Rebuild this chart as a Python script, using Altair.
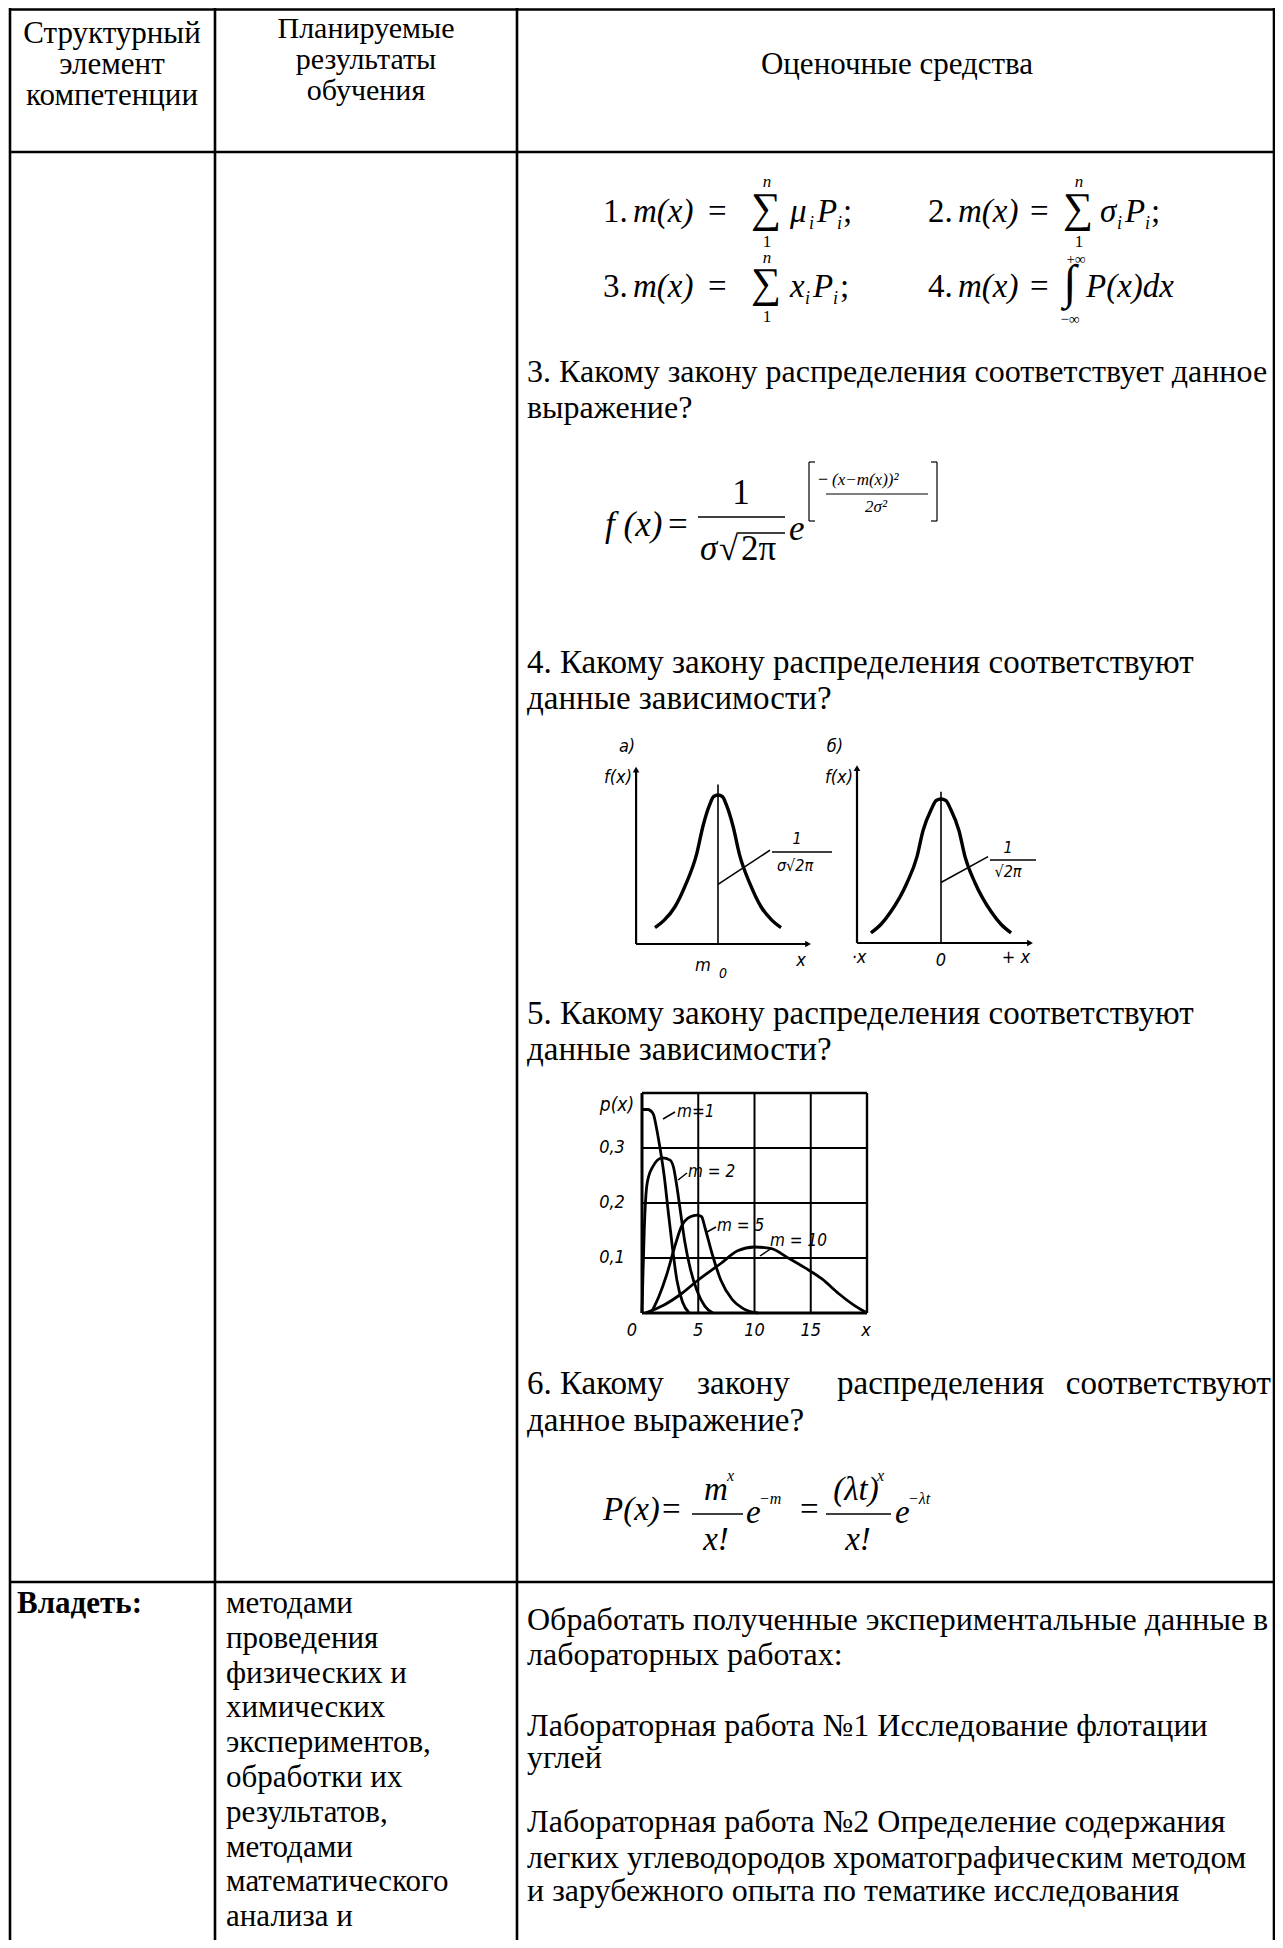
import altair as alt
import pandas as pd

# ---------------- canvas (page pixel coordinates) ----------------
W, H = 1267, 1932
OX, OY = 8, 8
SERIF = "Liberation Serif, Times New Roman, serif"
NARROW = "Liberation Sans Narrow, DejaVu Sans Condensed, Liberation Sans, sans-serif"

# ---------------- texts ----------------
HEAD_COL1 = ["Структурный", "элемент", "компетенции"]
HEAD_COL2 = ["Планируемые", "результаты", "обучения"]
HEAD_COL3 = ["Оценочные средства"]
Q3_LINES = ["3. Какому закону распределения соответствует данное", "выражение?"]
Q4_LINES = ["4. Какому закону распределения соответствуют", "данные зависимости?"]
Q5_LINES = ["5. Какому закону распределения соответствуют", "данные зависимости?"]
Q6_WORDS = ["6.", "Какому", "закону", "распределения", "соответствуют"]
Q6_LINE2 = ["данное выражение?"]
OWN_LABEL = ["Владеть:"]
OWN_COL2 = ["методами", "проведения", "физических и", "химических", "экспериментов,",
            "обработки их", "результатов,", "методами", "математического", "анализа и"]
OWN_COL3 = ["Обработать полученные экспериментальные данные в", "лабораторных работах:",
            "Лабораторная работа №1 Исследование флотации", "углей",
            "Лабораторная работа №2 Определение содержания",
            "легких углеводородов хроматографическим методом",
            "и зарубежного опыта по тематике исследования"]

# ---------------- figure data ----------------
# normal-law sketches, x in sigma units, y relative to peak
BELL_A_X = [-2.93, -2.5, -2.0, -1.5, -1.0, -0.7, -0.4, -0.2, 0.0, 0.2, 0.4, 0.7, 1.0, 1.5, 2.0, 2.5, 2.93]
BELL_A_Y = [0.11, 0.16, 0.25, 0.40, 0.60, 0.79, 0.93, 0.99, 1.0, 0.99, 0.93, 0.79, 0.60, 0.40, 0.25, 0.16, 0.11]
BELL_B_X = [-2.92, -2.5, -2.1, -1.42, -1.0, -0.75, -0.4, -0.2, 0.0, 0.2, 0.4, 0.75, 1.0, 1.42, 2.1, 2.5, 2.92]
BELL_B_Y = [0.07, 0.13, 0.215, 0.417, 0.60, 0.78, 0.93, 0.99, 1.0, 0.99, 0.93, 0.78, 0.60, 0.417, 0.215, 0.13, 0.07]

# Poisson curves p(x) for m = 1, 2, 5, 10
POIS_NAMES = ["m=1", "m=2", "m=5", "m=10"]
POIS_X = [
    [0, 0.5, 1.0, 1.3, 1.6, 2.0, 2.3, 2.7, 3.1, 3.6, 4.2],
    [0, 0.1, 0.2, 0.45, 0.9, 1.8, 2.5, 2.8, 3.1, 3.4, 3.8, 4.3, 4.9, 5.6, 6.3],
    [0.8, 1.5, 2.2, 2.9, 3.5, 4.3, 4.9, 5.3, 5.6, 6.2, 7.0, 8.0, 9.0, 10.3],
    [0.3, 2, 3.5, 5, 7, 8.5, 10, 11.5, 13, 14.5, 16, 17.5, 19, 20],
]
POIS_P = [
    [0.37, 0.37, 0.362, 0.335, 0.30, 0.245, 0.19, 0.12, 0.06, 0.02, 0.0],
    [0.0, 0.08, 0.15, 0.235, 0.264, 0.282, 0.278, 0.265, 0.23, 0.187, 0.13, 0.08, 0.04, 0.012, 0.0],
    [0.0, 0.03, 0.07, 0.12, 0.157, 0.175, 0.178, 0.175, 0.155, 0.11, 0.06, 0.025, 0.008, 0.0],
    [0.0, 0.015, 0.035, 0.06, 0.09, 0.113, 0.12, 0.117, 0.10, 0.082, 0.062, 0.035, 0.012, 0.0],
]
POIS_XTICKS = [5, 10, 15]
POIS_XLABELS = ["5", "10", "15"]
POIS_YTICKS = [0.1, 0.2, 0.3]
POIS_YLABELS = ["0,1", "0,2", "0,3"]

# ---------------- helpers ----------------
PX = alt.Scale(domain=[OX, OX + W], range=[0, W])
PY = alt.Scale(domain=[OY, OY + H], range=[0, H])


def texts(rows, font=SERIF, style="normal", weight="normal", align="left"):
    df = pd.DataFrame(rows, columns=["px", "py", "t", "fs"])
    return alt.Chart(df).mark_text(font=font, fontStyle=style, fontWeight=weight, align=align,
                                   baseline="middle", color="black").encode(
        x=alt.X("px:Q", scale=PX, axis=None),
        y=alt.Y("py:Q", scale=PY, axis=None),
        text=alt.Text("t:N"),
        size=alt.Size("fs:Q", scale=None, legend=None),
    )


def segs(rows, width, sx=PX, sy=PY):
    df = pd.DataFrame(rows, columns=["x1", "y1", "x2", "y2"])
    return alt.Chart(df).mark_rule(color="black", strokeWidth=width).encode(
        x=alt.X("x1:Q", scale=sx, axis=None), y=alt.Y("y1:Q", scale=sy, axis=None),
        x2="x2:Q", y2="y2:Q")


def sub_scale(dom, rng, off):
    return alt.Scale(domain=dom, range=[rng[0] - off, rng[1] - off], nice=False, zero=False)


layers = []

# ---------------- table grid ----------------
B = OY + H
layers.append(segs([(10, 8, 10, B), (215, 8, 215, B), (517, 8, 517, B), (1274, 8, 1274, B),
                    (9, 9.5, 1275, 9.5), (9, 152, 1275, 152), (9, 1582, 1275, 1582)], 2.6))

# ---------------- header ----------------
rows = [(112, y, t, 31) for y, t in zip([34, 65, 96], HEAD_COL1)]
rows += [(366, y, t, 30) for y, t in zip([29, 60, 91], HEAD_COL2)]
rows += [(897, 65, HEAD_COL3[0], 31)]
layers.append(texts(rows, align="center"))

# ---------------- body text ----------------
rows = [(527, y, t, 32) for y, t in zip([372, 408], Q3_LINES)]
rows += [(527, y, t, 33) for y, t in zip([663, 699], Q4_LINES)]
rows += [(527, y, t, 33) for y, t in zip([1014, 1050], Q5_LINES)]
rows += [(x, 1384, t, 33) for x, t in zip([527, 560, 697, 837], Q6_WORDS[:4])]
rows += [(527, 1421, Q6_LINE2[0], 33)]
rows += [(226, 1604 + 34.8 * i, t, 31) for i, t in enumerate(OWN_COL2)]
rows += [(527, y, t, 32) for y, t in zip([1620, 1655, 1726, 1758, 1822, 1858, 1891], OWN_COL3)]
layers.append(texts(rows))
layers.append(texts([(1271, 1384, Q6_WORDS[4], 33)], align="right"))
layers.append(texts([(17, 1604, OWN_LABEL[0], 31)], weight="bold"))

# ---------------- formulas (m(x) lines) ----------------
FS = 33
up = [("1.", 603, 212), ("=", 708, 212), (";", 843, 212), ("2.", 928, 212), ("=", 1030, 212), (";", 1151, 212),
      ("3.", 603, 287), ("=", 708, 287), (";", 840, 287), ("4.", 928, 287), ("=", 1030, 287)]
layers.append(texts([(x, y, t, FS) for t, x, y in up]))
it = [("m(x)", 633, 212), ("μ", 790, 212), ("P", 817, 212), ("m(x)", 958, 212), ("σ", 1100, 212), ("P", 1125, 212),
      ("m(x)", 633, 287), ("x", 790, 287), ("P", 813, 287), ("m(x)", 958, 287), ("P(x)dx", 1086, 287)]
layers.append(texts([(x, y, t, FS) for t, x, y in it], style="italic"))
subs = [("i", 809, 224), ("i", 837, 224), ("i", 1117, 224), ("i", 1145, 224), ("i", 805, 299), ("i", 833, 299)]
layers.append(texts([(x, y, t, 18) for t, x, y in subs], style="italic"))
layers.append(texts([(767, 182, "n", 17), (1079, 182, "n", 17), (767, 258, "n", 17)], style="italic", align="center"))
layers.append(texts([(766, 209, "∑", 42), (1078, 209, "∑", 42), (766, 284, "∑", 42), (1070, 284, "∫", 48)],
                    align="center"))
layers.append(texts([(767, 242, "1", 17), (1079, 242, "1", 17), (767, 317, "1", 17),
                     (1076, 259, "+∞", 15), (1070, 319, "−∞", 15)], align="center"))

# ---------------- normal density formula ----------------
layers.append(texts([(605, 525, "f (x)", 35), (789, 529, "e", 35), (700, 549, "σ", 35)], style="italic"))
layers.append(texts([(668, 525, "=", 35), (719, 549, "√", 35), (741, 549, "2π", 35)]))
layers.append(texts([(741, 493, "1", 35)], align="center"))
layers.append(segs([(698, 517, 785, 517), (738, 533, 785, 533)], 1.5))
layers.append(segs([(809, 462, 809, 521), (809, 462, 815, 462), (809, 521, 815, 521),
                    (937, 462, 937, 521), (931, 462, 937, 462), (931, 521, 937, 521),
                    (826, 494, 928, 494)], 1.2))
layers.append(texts([(818, 480, "−", 18)]))
layers.append(texts([(832, 480, "(x−m(x))²", 17)], style="italic"))
layers.append(texts([(876, 507, "2σ²", 17)], style="italic", align="center"))

# ---------------- Poisson formula ----------------
layers.append(texts([(603, 1510, "P(x)", 33), (746, 1513, "e", 33), (895, 1513, "e", 33)], style="italic"))
layers.append(texts([(716, 1490, "m", 33), (716, 1540, "x!", 33), (856, 1490, "(λt)", 33), (858, 1540, "x!", 33)],
                    style="italic", align="center"))
layers.append(texts([(727, 1476, "x", 16), (759, 1499, "−m", 16), (877, 1476, "x", 16), (908, 1499, "−λt", 16)],
                    style="italic"))
layers.append(texts([(662, 1510, "=", 33), (800, 1510, "=", 33)]))
layers.append(segs([(692, 1514, 743, 1514), (826, 1514, 891, 1514)], 1.5))

# ---------------- normal-law sketches ----------------
def bell(xs, ys, cx, sig, base, peak, ax_x, ax_end, ax_top, cl_top, lead):
    sx = sub_scale([-4, 4], [cx - 4 * sig, cx + 4 * sig], OX)
    sy = sub_scale([0, 1], [base, peak], OY)
    out = []
    df = pd.DataFrame({"u": xs, "v": ys, "i": list(range(len(xs)))})
    out.append(alt.Chart(df).mark_line(color="black", strokeWidth=3.4, interpolate="monotone").encode(
        x=alt.X("u:Q", scale=sx, axis=None), y=alt.Y("v:Q", scale=sy, axis=None), order="i:Q"))
    out.append(segs([(ax_x, 0, ax_x, ax_top), (ax_x, 0, ax_end, 0)], 2.2, sx, sy))
    out.append(segs([(0, 0, 0, cl_top), lead], 1.6, sx, sy))
    arr = pd.DataFrame({"u": [ax_x, ax_end], "v": [ax_top, 0], "s": ["triangle-up", "triangle-right"]})
    out.append(alt.Chart(arr).mark_point(filled=True, size=45, color="black", opacity=1).encode(
        x=alt.X("u:Q", scale=sx, axis=None), y=alt.Y("v:Q", scale=sy, axis=None),
        shape=alt.Shape("s:N", scale=None, legend=None)))
    return out


layers += bell(BELL_A_X, BELL_A_Y, 718, 21.5, 944, 795, -3.81, 4.19, 1.17, 1.07, (0, 0.40, 2.42, 0.63))
layers += bell(BELL_B_X, BELL_B_Y, 941, 24.0, 943, 799, -3.5, 3.71, 1.215, 1.05, (0, 0.42, 1.96, 0.60))

small = [(627, 747, "а)", 18), (835, 747, "б)", 18), (797, 839, "1", 16), (795, 866, "σ√2π", 16),
         (1008, 848, "1", 16), (1008, 872, "√2π", 16), (703, 966, "m", 18), (723, 974, "0", 14),
         (801, 961, "x", 18), (859, 958, "·x", 18), (941, 961, "0", 18), (1016, 958, "+ x", 18)]
layers.append(texts(small, font=NARROW, style="italic", align="center"))
layers.append(texts([(632, 778, "f(x)", 18), (853, 778, "f(x)", 18)], font=NARROW, style="italic", align="right"))
layers.append(segs([(772, 852, 832, 852), (990, 860, 1036, 860)], 1.3))

# ---------------- Poisson chart ----------------
SXP = sub_scale([0, 20], [642, 867], OX)
SYP = sub_scale([0, 0.4], [1313, 1093], OY)
prow = []
for name, xs, ps in zip(POIS_NAMES, POIS_X, POIS_P):
    for i, (x, p) in enumerate(zip(xs, ps)):
        prow.append({"m": name, "i": i, "x": x, "p": p})
pdf = pd.DataFrame(prow)
grid = [(v, 0, v, 0.4) for v in POIS_XTICKS] + [(0, v, 20, v) for v in POIS_YTICKS]
layers.append(segs(grid, 2.0, SXP, SYP))
layers.append(segs([(0, 0.4, 20, 0.4), (20, 0, 20, 0.4)], 2.4, SXP, SYP))
layers.append(segs([(0, 0, 0, 0.4), (0, 0, 20, 0)], 3.0, SXP, SYP))
layers.append(alt.Chart(pdf).mark_line(color="black", strokeWidth=2.8, interpolate="monotone").encode(
    x=alt.X("x:Q", scale=SXP, axis=None), y=alt.Y("p:Q", scale=SYP, axis=None),
    detail="m:N", order="i:Q"))
ylab = pd.DataFrame({"p": POIS_YTICKS, "lab": POIS_YLABELS})
layers.append(alt.Chart(ylab).mark_text(font=NARROW, fontStyle="italic", fontSize=18, align="center",
                                        baseline="middle", color="black").encode(
    x=alt.value(612 - OX), y=alt.Y("p:Q", scale=SYP, axis=None), text="lab:N"))
xlab = pd.DataFrame({"x": POIS_XTICKS, "lab": POIS_XLABELS})
layers.append(alt.Chart(xlab).mark_text(font=NARROW, fontStyle="italic", fontSize=18, align="center",
                                        baseline="middle", color="black").encode(
    x=alt.X("x:Q", scale=SXP, axis=None), y=alt.value(1331 - OY), text="lab:N"))
layers.append(texts([(632, 1331, "0", 18), (866, 1331, "x", 18), (617, 1105, "p(x)", 19)],
                    font=NARROW, style="italic", align="center"))
layers.append(texts([(677, 1112, "m=1", 17), (688, 1172, "m = 2", 17), (717, 1226, "m = 5", 17),
                     (770, 1241, "m = 10", 17)], font=NARROW, style="italic"))
layers.append(segs([(663, 1119, 675, 1112), (678, 1180, 687, 1173), (707, 1232, 716, 1227),
                    (760, 1256, 772, 1248)], 1.5))

chart = alt.layer(*layers).resolve_scale(x="independent", y="independent").properties(
    width=W, height=H, padding=0, autosize=alt.AutoSizeParams(type="none"),
    background="white").configure_view(stroke=None)

chart.save("out.html", embed_options={"renderer": "svg", "actions": False})
